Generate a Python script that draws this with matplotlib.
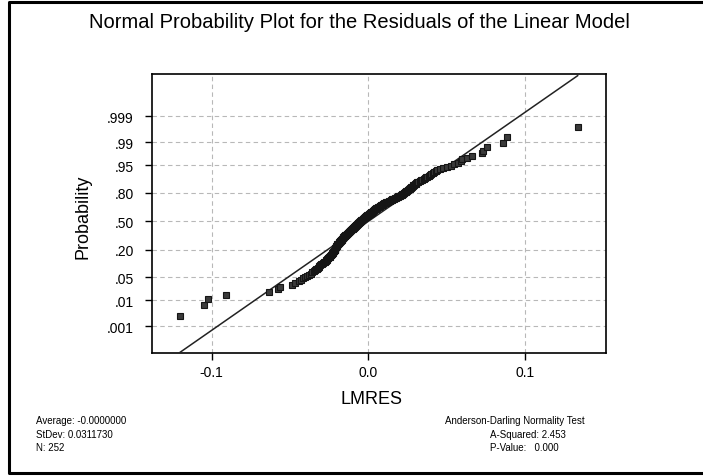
import matplotlib
matplotlib.use('Agg')
import matplotlib.pyplot as plt
import numpy as np
from statistics import NormalDist
from matplotlib.lines import Line2D

plt.rcParams['font.family'] = ['Liberation Sans', 'DejaVu Sans']

# residuals of the linear model (LMRES), sorted
residuals = [
    -0.1202, -0.1049, -0.1024, -0.0907, -0.0634, -0.0579, -0.0564, -0.0489, -0.0468,
    -0.0445, -0.0430, -0.0418, -0.0405, -0.0392, -0.0378, -0.0366,
    -0.0357, -0.0349, -0.0342, -0.0336, -0.0330, -0.0324, -0.0318, -0.0312, -0.0306,
    -0.0300, -0.0294, -0.0288, -0.0282, -0.0277,
    -0.0272, -0.0269, -0.0265, -0.0262, -0.0258, -0.0255, -0.0251, -0.0248, -0.0244, -0.0240,
    -0.0237, -0.0235, -0.0233, -0.0230, -0.0228, -0.0226, -0.0223, -0.0221, -0.0219, -0.0216,
    -0.0214, -0.0213, -0.0212, -0.0211, -0.0210, -0.0209, -0.0207, -0.0206, -0.0204, -0.0202,
    -0.0201, -0.0199, -0.0197, -0.0195, -0.0193,
    -0.0189, -0.0187, -0.0185, -0.0183, -0.0181, -0.0179, -0.0177, -0.0175, -0.0173, -0.0171,
    -0.0169, -0.0167, -0.0165, -0.0163, -0.0161,
    -0.0159, -0.0157, -0.0155, -0.0152, -0.0150, -0.0147, -0.0144, -0.0142, -0.0139, -0.0136,
    -0.0134, -0.0131, -0.0129, -0.0126, -0.0124, -0.0121, -0.0119, -0.0117, -0.0115, -0.0113,
    -0.0111, -0.0108, -0.0106, -0.0104, -0.0101, -0.0099, -0.0097, -0.0094, -0.0092, -0.0090,
    -0.0088, -0.0085, -0.0083, -0.0081, -0.0078, -0.0076, -0.0074, -0.0071, -0.0069, -0.0066,
    -0.0063, -0.0061, -0.0058, -0.0056, -0.0053, -0.0051, -0.0049, -0.0046, -0.0044, -0.0041,
    -0.0039, -0.0037, -0.0034, -0.0032, -0.0030, -0.0027, -0.0025, -0.0023, -0.0020, -0.0018,
    -0.0015, -0.0012, -0.0009, -0.0006, -0.0003, 0.0000, 0.0003, 0.0006, 0.0009, 0.0011,
    0.0014, 0.0017, 0.0020, 0.0023, 0.0026, 0.0028, 0.0031, 0.0033, 0.0036, 0.0038,
    0.0041, 0.0044, 0.0047, 0.0051, 0.0054, 0.0058, 0.0061, 0.0065, 0.0068, 0.0072,
    0.0076, 0.0080, 0.0084, 0.0088, 0.0092, 0.0096, 0.0100, 0.0105, 0.0110, 0.0115,
    0.0120, 0.0125, 0.0131, 0.0136, 0.0142, 0.0148, 0.0154, 0.0160, 0.0166, 0.0172,
    0.0177, 0.0182, 0.0187, 0.0192, 0.0197, 0.0202, 0.0207, 0.0212, 0.0217, 0.0222,
    0.0226, 0.0230, 0.0234, 0.0238, 0.0242, 0.0246, 0.0250, 0.0254, 0.0258, 0.0263,
    0.0267, 0.0271, 0.0275, 0.0279, 0.0284, 0.0288, 0.0292, 0.0297, 0.0302, 0.0307,
    0.0312, 0.0320, 0.0328, 0.0336, 0.0344, 0.0352, 0.0360, 0.0368, 0.0376, 0.0385,
    0.0394, 0.0403, 0.0412, 0.0421, 0.0430,
    0.0440, 0.0455, 0.0475, 0.0500, 0.0530, 0.0545, 0.0575, 0.0592, 0.0600, 0.0628,
    0.0660, 0.0723, 0.0734, 0.0756, 0.0858, 0.0887, 0.1336,
]

prob_ticks = [0.001, 0.01, 0.05, 0.20, 0.50, 0.80, 0.95, 0.99, 0.999]
prob_labels = ['.001', '.01', '.05', '.20', '.50', '.80', '.95', '.99', '.999']
x_ticks = [-0.1, 0.0, 0.1]
x_labels = ['-0.1', '0.0', '0.1']

average = -0.0
stdev = 0.0311730
a_squared = 2.453
p_value = 0.000

nd = NormalDist()
res = np.sort(np.array(residuals))
n = len(res)
ranks = np.arange(1, n + 1)
# median-rank plotting positions on a normal scale
z = np.array([nd.inv_cdf(p) for p in (ranks - 0.3) / (n + 0.4)])

W, H = 703, 477
fig = plt.figure(figsize=(W / 100, H / 100), dpi=100)
ax = fig.add_axes([151.7 / W, 1 - 354 / H, 454 / W, 279 / H])

ax.grid(True, color='#b8b8b8', linestyle=(0, (4, 3)), linewidth=0.8)
ax.set_axisbelow(True)

# fitted normal line between the extreme residuals
line_x = np.array([res[0], res[-1]])
ax.plot(line_x, (line_x - average) / stdev, color='#222222', lw=1.1, zorder=3)
ax.plot(res, z, 's', ms=4.2, color='#3a3a3a', mec='#151515', mew=0.8, zorder=4)

ax.set_xlim(-0.1383, 0.1515)
ax.set_ylim(-3.876, 4.335)
ax.set_xticks(x_ticks)
ax.set_xticklabels(x_labels)
ax.set_yticks([nd.inv_cdf(p) for p in prob_ticks])
ax.set_yticklabels(prob_labels)
ax.tick_params(axis='both', direction='out', length=5, width=1, labelsize=10, color='black')
ax.tick_params(axis='y', pad=8)
ax.tick_params(axis='x', pad=4)
for s in ax.spines.values():
    s.set_linewidth(1.2)
    s.set_color('black')

fig.text(359 / W, 1 - 22 / H, 'Normal Probability Plot for the Residuals of the Linear Model',
         ha='center', va='center', fontsize=14.5)
fig.text(83 / W, 1 - 217 / H, 'Probability', rotation=90, ha='center', va='center', fontsize=13)
fig.text(372 / W, 1 - 400 / H, 'LMRES', ha='center', va='center', fontsize=13)

fs = 7
fig.text(36 / W, 1 - 421 / H, f'Average: {average:.7f}', fontsize=fs, va='center')
fig.text(36 / W, 1 - 435 / H, f'StDev: {stdev:.7f}', fontsize=fs, va='center')
fig.text(36 / W, 1 - 448 / H, f'N: {n}', fontsize=fs, va='center')
fig.text(445 / W, 1 - 421 / H, 'Anderson-Darling Normality Test', fontsize=fs, va='center')
fig.text(490 / W, 1 - 435 / H, f'A-Squared: {a_squared:.3f}', fontsize=fs, va='center')
fig.text(490 / W, 1 - 448 / H, f'P-Value:   {p_value:.3f}', fontsize=fs, va='center')

# frame around the graph window
fig.add_artist(Line2D([1.0, 9 / W, 9 / W, 1.0], [1 - 3 / H, 1 - 3 / H, 1 - 474 / H, 1 - 474 / H],
                      transform=fig.transFigure, color='black', lw=2.2))

fig.savefig('out.png', dpi=100)
